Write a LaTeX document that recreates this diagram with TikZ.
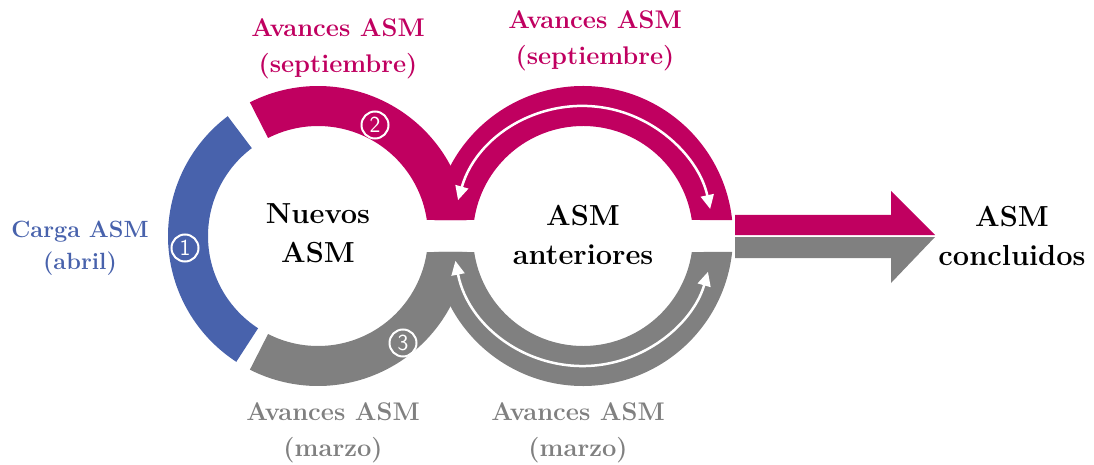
\documentclass[tikz,border=0pt]{standalone}
\usetikzlibrary{arrows.meta,calc}
\definecolor{mag}{RGB}{192,0,96}
\definecolor{blu}{RGB}{72,98,172}
\definecolor{gry}{RGB}{128,128,128}
\begin{document}
\begin{tikzpicture}[x=1pt,y=1pt,
  lbl/.style={font=\bfseries\fontsize{25.5}{36}\selectfont, align=center, inner sep=0pt},
  main/.style={font=\bfseries\fontsize{29}{39}\selectfont, align=center, inner sep=0pt},
  num/.style={circle, draw=white, line width=2pt, text=white, minimum size=27pt, inner sep=0pt, font=\sffamily\fontsize{23}{23}\selectfont},
  warrow/.style={white, line width=2.5pt, {Triangle[length=14pt,width=13pt]}-{Triangle[length=14pt,width=13pt]}}]
\useasboundingbox (0,0) rectangle (1094,464);
\coordinate (L) at (318,228);
\coordinate (R) at (583,228);
% blue
\fill[blu] ($(L)+(127:150)$) arc[start angle=127,end angle=237,radius=150]
  -- ($(L)+(237:110)$) arc[start angle=237,end angle=127,radius=110] -- cycle;
% magenta left
\fill[mag] ($(L)+(117:150)$) arc[start angle=117,end angle=6.123,radius=150]
  -- ($(L)+(8.365:110)$) arc[start angle=8.365,end angle=117,radius=110] -- cycle;
% magenta right
\fill[mag] ($(R)+(173.877:150)$) arc[start angle=173.877,end angle=6.123,radius=150]
  -- ($(R)+(8.365:110)$) arc[start angle=8.365,end angle=171.635,radius=110] -- cycle;
% gray left
\fill[gry] ($(L)+(-6.123:150)$) arc[start angle=-6.123,end angle=-117,radius=150]
  -- ($(L)+(-117:110)$) arc[start angle=-117,end angle=-8.365,radius=110] -- cycle;
% gray right
\fill[gry] ($(R)+(186.123:150)$) arc[start angle=186.123,end angle=353.877,radius=150]
  -- ($(R)+(351.635:110)$) arc[start angle=351.635,end angle=188.365,radius=110] -- cycle;
% white arrows
\draw[warrow] ($(R)+(164:130)$) arc[start angle=164,end angle=12,radius=130];
\draw[warrow] ($(R)+(191:130)$) arc[start angle=191,end angle=344,radius=130];
% big arrow
\fill[mag] (735,229) -- (735,249) -- (891,249) -- (891,273) -- (935,229) -- cycle;
\fill[gry] (735,227) -- (935,227) -- (891,181) -- (891,206) -- (735,206) -- cycle;
% numbers
\node[num] (n1) at (185,216) {1};
\node[num] (n2) at (375,339) {2};
\node[num] (n3) at (403,121) {3};
% labels
\node[main] (nuevos) at (318,231) {Nuevos\\ASM};
\node[main] (anter) at (583,229) {ASM\\anteriores};
\node[main] (concl) at (1012,228) {ASM\\concluidos};
\node[lbl, text=blu, font=\bfseries\fontsize{23.5}{32}\selectfont] (carga) at (80,216) {Carga ASM\\(abril)};
\node[lbl, text=mag] (sepL) at (338,415) {Avances ASM\\(septiembre)};
\node[lbl, text=mag] (sepR) at (595,423) {Avances ASM\\(septiembre)};
\node[lbl, text=gry] (marL) at (333,31) {Avances ASM\\(marzo)};
\node[lbl, text=gry] (marR) at (578,31) {Avances ASM\\(marzo)};
\end{tikzpicture}
\end{document}
